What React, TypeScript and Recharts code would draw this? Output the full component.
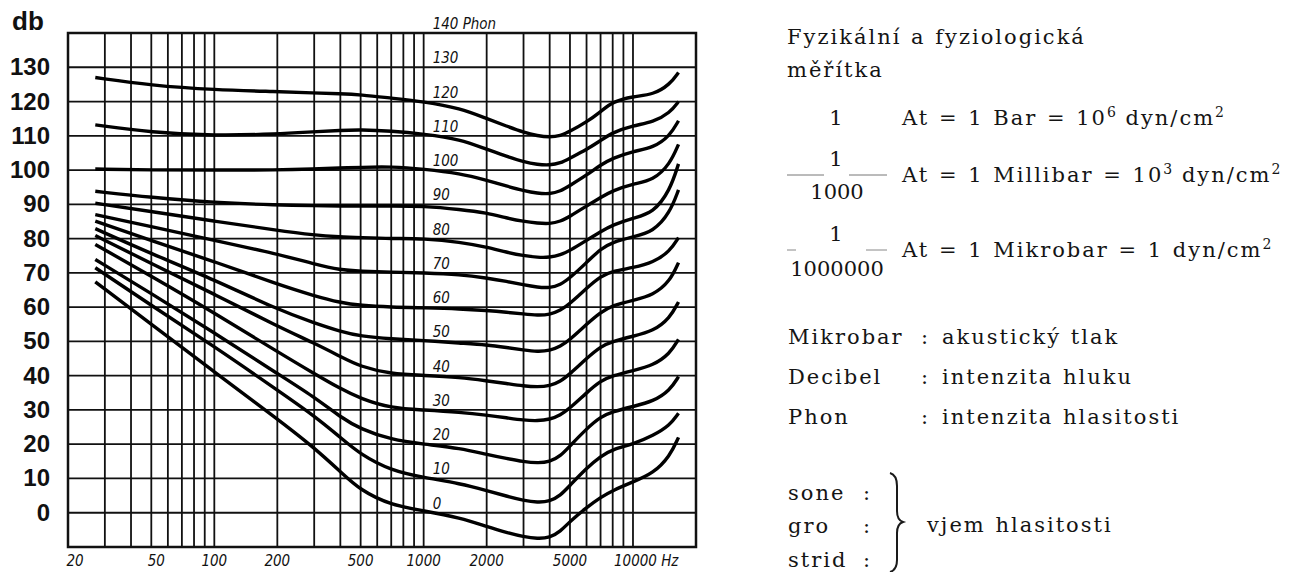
import React from 'react';
import { LineChart, Line, XAxis, YAxis, CartesianGrid, ReferenceArea, ReferenceDot } from 'recharts';

// frequency samples (Hz) shared by all curves
const FREQ = [27, 50, 100, 200, 300, 400, 500, 700, 1000, 1500, 2000, 2500, 3000, 3500, 4000, 4500, 5000, 6000, 7000, 8000, 10000, 12500, 15000, 16500];

// sound level (dB) of each equal-loudness curve at FREQ
const PHON_0 = [67.4, 55, 41.1, 27.4, 19, 12, 6.5, 2.2, 0.6, -1.5, -4, -5.8, -7, -7.6, -7.3, -5.5, -2.5, 1.5, 4.5, 6.5, 9, 11.5, 16.5, 22];
const PHON_10 = [71.5, 60.5, 48.5, 35.8, 28.3, 22, 17, 12.3, 10.3, 8.5, 6.5, 4.8, 3.6, 3, 3.3, 5, 8, 13, 16.5, 18.5, 20, 22.5, 25.5, 29];
const PHON_20 = [73.9, 64, 52.5, 40.6, 33.8, 27.9, 24.4, 21.3, 20, 18.8, 17, 15.8, 14.9, 14.5, 14.8, 16.5, 19.5, 24.5, 28, 29.5, 31, 32.5, 35.7, 39.7];
const PHON_30 = [78.3, 69, 58.3, 47, 40.6, 36.2, 33.3, 30.5, 30, 29.3, 28.5, 27.7, 27, 26.8, 27.2, 28.5, 30.5, 35, 38.5, 40, 41.5, 43, 46.4, 50.6];
const PHON_40 = [80.9, 72.7, 63.8, 54.4, 49.5, 45.6, 42.6, 40.5, 40.1, 39.5, 38.5, 37.7, 37, 36.7, 37, 38.3, 40.5, 45, 48.5, 50, 51.5, 53, 56.8, 61.5];
const PHON_50 = [82.9, 75.6, 68, 59.3, 55.4, 52.9, 51.5, 50.7, 50.3, 49.5, 49, 48.2, 47.5, 47, 47.3, 48.5, 50.5, 55, 58.5, 60.5, 62, 63.5, 67.5, 73];
const PHON_60 = [85.1, 79.4, 73.3, 66.7, 63.3, 61.3, 60.5, 60, 59.8, 59.5, 59, 58.5, 58, 57.6, 57.8, 59, 61, 65.5, 69, 70.5, 71.5, 73, 76.3, 80.3];
const PHON_70 = [87, 83.5, 79.5, 75.5, 72.6, 70.8, 70.5, 70.2, 70, 69.5, 68.5, 67.5, 66.5, 65.8, 65.6, 66.5, 68.5, 73, 77, 79, 80.5, 82, 87.5, 94.2];
const PHON_80 = [90.3, 87.9, 85.1, 82.4, 81, 80.5, 80.3, 80, 80, 79, 77.5, 76, 75, 74.5, 74.5, 75.2, 76.5, 79.5, 82, 84, 86, 87.5, 94, 101.8];
const PHON_90 = [93.8, 92, 90.5, 89.8, 89.6, 89.5, 89.5, 89.5, 89.5, 88.5, 87.5, 86, 85, 84.5, 84.3, 85, 86.5, 89.5, 92, 94, 96, 97, 101.7, 107.5];
const PHON_100 = [100.3, 100, 100, 100, 100.3, 100.6, 100.8, 101, 100.3, 99, 97, 95.3, 94, 93.2, 93, 93.8, 95.5, 98.5, 101.5, 103.5, 105.5, 106.5, 110, 114.4];
const PHON_110 = [113.2, 111, 110, 110.5, 111.2, 111.6, 111.8, 111.4, 110.5, 109, 106, 104, 102.4, 101.6, 101.4, 102, 103.5, 106, 108.6, 111, 113, 114, 116.7, 120];
const PHON_120 = [127, 124.7, 123.4, 122.9, 122.5, 122.3, 122, 121, 120, 118, 115, 112.8, 111, 110, 109.6, 110, 111.3, 114, 117, 120, 121.5, 122, 125, 128.5];

const PHON_LEVELS = [0, 10, 20, 30, 40, 50, 60, 70, 80, 90, 100, 110, 120];
const CURVES = [PHON_0, PHON_10, PHON_20, PHON_30, PHON_40, PHON_50, PHON_60, PHON_70, PHON_80, PHON_90, PHON_100, PHON_110, PHON_120];

const DB_TICKS = [-10, 0, 10, 20, 30, 40, 50, 60, 70, 80, 90, 100, 110, 120, 130, 140];
const DB_LABELS = [0, 10, 20, 30, 40, 50, 60, 70, 80, 90, 100, 110, 120, 130];
const PRESSURE_TICKS = [0, 20, 40, 60, 80, 100, 120, 140];
const PRESSURE_EXP = ['−4', '−3', '−2', '−1', '', '1', '2', '3'];
const FREQ_GRID = [20, 30, 40, 50, 60, 70, 80, 90, 100, 200, 300, 400, 500, 600, 700, 800, 900, 1000,
    2000, 3000, 4000, 5000, 6000, 7000, 8000, 9000, 10000];
const FREQ_LABELS = [20, 50, 100, 200, 500, 1000, 2000, 5000, 10000];
const PHON_LABELS = [0, 10, 20, 30, 40, 50, 60, 70, 80, 90, 100, 110, 120, 130, 140];
const LABEL_FREQ = 1000;

const data = FREQ.map((f, i) => {
    const row: Record<string, number> = { f };
    PHON_LEVELS.forEach((p, k) => { row['p' + p] = CURVES[k][i]; });
    return row;
});

const HAND = "'DejaVu Sans Condensed', 'DejaVu Sans', sans-serif";
const SERIF = "'DejaVu Serif', 'Liberation Serif', serif";
const INK = '#111';

const LeftTick = (props: any) => {
    const v = props.payload.value;
    if (!DB_LABELS.includes(v)) return null;
    return (
        <text x={50} y={props.y + 8} textAnchor="end" fontFamily="'Liberation Sans', Arial, sans-serif"
            fontWeight={900} fontSize={24} fill={INK}>{v}</text>
    );
};

const RightTick = (props: any) => {
    const v = props.payload.value;
    const exp = PRESSURE_EXP[PRESSURE_TICKS.indexOf(v)];
    const x = props.x;
    if (v === 140) {
        return (
            <g fontFamily={HAND} fontStyle="italic" fill={INK}>
                <text x={x} y={props.y + 13} fontSize={16}>2·10<tspan dy={-6} fontSize={12}>{exp}</tspan></text>
                <text x={x} y={props.y + 30} fontSize={14}>dyn/cm<tspan dy={-5} fontSize={10}>2</tspan></text>
            </g>
        );
    }
    return (
        <text x={x} y={props.y + 5} fontFamily={HAND} fontStyle="italic" fontSize={16} fill={INK}>
            {exp === '' ? '2' : '2·10'}
            {exp !== '' && <tspan dy={-7} fontSize={12}>{exp}</tspan>}
        </text>
    );
};

const BottomTick = (props: any) => {
    const v = props.payload.value;
    if (!FREQ_LABELS.includes(v)) return null;
    if (v === 10000) {
        return (
            <text x={props.x - 19} y={566} fontFamily={HAND} fontStyle="italic" fontSize={15} fill={INK}>10000 Hz</text>
        );
    }
    const dx = v === 20 ? 7 : v === 50 ? 5 : 0;
    return (
        <text x={props.x + dx} y={566} textAnchor="middle" fontFamily={HAND} fontStyle="italic" fontSize={15} fill={INK}>{v}</text>
    );
};

const PhonLabel = (p: number) => (props: any) => (
    <text x={props.cx + 9} y={props.cy - 4} fontFamily={HAND} fontStyle="italic" fontSize={15} fill={INK}>
        {p === 140 ? '140 Phon' : p}
    </text>
);

const Sup = ({ children }: { children: React.ReactNode }) => (
    <>
        <tspan dy={-8} fontSize={14} letterSpacing={0}>{children}</tspan>
        <tspan dy={8}> </tspan>
    </>
);

function Legend() {
    const t = { fontFamily: SERIF, fontSize: 21, letterSpacing: 2, wordSpacing: 1, fill: '#141414' } as const;
    const ox = 760;
    const X = (x: number) => x - ox;
    return (
        <svg width={531} height={572} style={{ position: 'absolute', left: ox, top: 0 }}>
            <text {...t} x={X(787)} y={44}>Fyzikální a fyziologická</text>
            <text {...t} x={X(787)} y={77}>měřítka</text>

            <text {...t} x={X(837)} y={125} textAnchor="middle">1</text>
            <text {...t} x={X(902)} y={125}>At = 1 Bar = 10<Sup>6</Sup>dyn/cm<Sup>2</Sup></text>

            <text {...t} x={X(837)} y={166} textAnchor="middle">1</text>
            <line x1={X(787)} x2={X(824)} y1={175} y2={175} stroke="#777" strokeWidth={1} />
            <line x1={X(849)} x2={X(887)} y1={175} y2={175} stroke="#777" strokeWidth={1} />
            <text {...t} x={X(837)} y={199} textAnchor="middle" letterSpacing={0}>1000</text>
            <text {...t} x={X(902)} y={182}>At = 1 Millibar = 10<Sup>3</Sup>dyn/cm<Sup>2</Sup></text>

            <text {...t} x={X(837)} y={241} textAnchor="middle">1</text>
            <line x1={X(787)} x2={X(796)} y1={250} y2={250} stroke="#888" strokeWidth={1} />
            <line x1={X(866)} x2={X(887)} y1={250} y2={250} stroke="#888" strokeWidth={1} />
            <text {...t} x={X(837)} y={276} textAnchor="middle" letterSpacing={0}>1000000</text>
            <text {...t} x={X(902)} y={257}>At = 1 Mikrobar = 1 dyn/cm<Sup>2</Sup></text>

            <text {...t} x={X(788)} y={344}>Mikrobar</text>
            <text {...t} x={X(921)} y={344}>:</text>
            <text {...t} x={X(942)} y={344}>akustický tlak</text>
            <text {...t} x={X(788)} y={384}>Decibel</text>
            <text {...t} x={X(921)} y={384}>:</text>
            <text {...t} x={X(942)} y={384}>intenzita hluku</text>
            <text {...t} x={X(788)} y={424}>Phon</text>
            <text {...t} x={X(921)} y={424}>:</text>
            <text {...t} x={X(942)} y={424}>intenzita hlasitosti</text>

            <text {...t} x={X(788)} y={500}>sone</text>
            <text {...t} x={X(863)} y={500}>:</text>
            <text {...t} x={X(788)} y={533}>gro</text>
            <text {...t} x={X(863)} y={533}>:</text>
            <text {...t} x={X(788)} y={567}>strid</text>
            <text {...t} x={X(863)} y={567}>:</text>
            <path d={`M ${X(890)} 473 Q ${X(897)} 475 ${X(897)} 486 L ${X(897)} 511 Q ${X(897)} 520 ${X(903)} 522
                      Q ${X(897)} 524 ${X(897)} 533 L ${X(897)} 560 Q ${X(897)} 570 ${X(890)} 572`}
                fill="none" stroke="#1a1a1a" strokeWidth={2} />
            <text {...t} x={X(927)} y={532}>vjem hlasitosti</text>
        </svg>
    );
}

export default function App() {
    return (
        <div style={{ position: 'absolute', left: 0, top: 0, width: 1291, height: 572, background: '#fff', overflow: 'hidden' }}>
            <div style={{ position: 'absolute', left: 0, top: 0 }}>
                <LineChart width={760} height={572} data={data} margin={{ top: 33, right: 5, bottom: 0, left: 8 }}>
                    <CartesianGrid stroke={INK} strokeWidth={1.8} horizontalValues={DB_TICKS} verticalValues={FREQ_GRID} />
                    <XAxis dataKey="f" type="number" scale="log" domain={[20, 20000]} allowDataOverflow
                        ticks={FREQ_GRID} interval={0} tick={<BottomTick />} axisLine={false} tickLine={false} height={25} />
                    <YAxis type="number" domain={[-10, 140]} ticks={DB_TICKS} interval={0} allowDataOverflow
                        tick={<LeftTick />} axisLine={false} tickLine={false} width={60} />
                    <YAxis yAxisId="right" orientation="right" type="number" domain={[-10, 140]} ticks={PRESSURE_TICKS}
                        interval={0} tick={<RightTick />} axisLine={false} tickLine={{ stroke: INK, strokeWidth: 1.5 }}
                        tickSize={5} tickMargin={1} width={59} />
                    <ReferenceArea x1={20} x2={20000} y1={-10} y2={140} fill="none" stroke={INK} strokeWidth={2.5} fillOpacity={0} />
                    {PHON_LEVELS.map((p) => (
                        <Line key={p} dataKey={'p' + p} type="basis" stroke="#000" strokeWidth={3.4}
                            dot={false} activeDot={false} isAnimationActive={false} />
                    ))}
                    {PHON_LABELS.map((p) => (
                        <ReferenceDot key={'l' + p} x={LABEL_FREQ} y={p} r={0} ifOverflow="visible" shape={PhonLabel(p)} />
                    ))}
                </LineChart>
            </div>
            <div style={{ position: 'absolute', left: 12, top: 8, fontFamily: "'Liberation Sans', Arial, sans-serif",
                fontWeight: 900, fontSize: 26, lineHeight: '26px', color: INK }}>db</div>
            <Legend />
        </div>
    );
}
